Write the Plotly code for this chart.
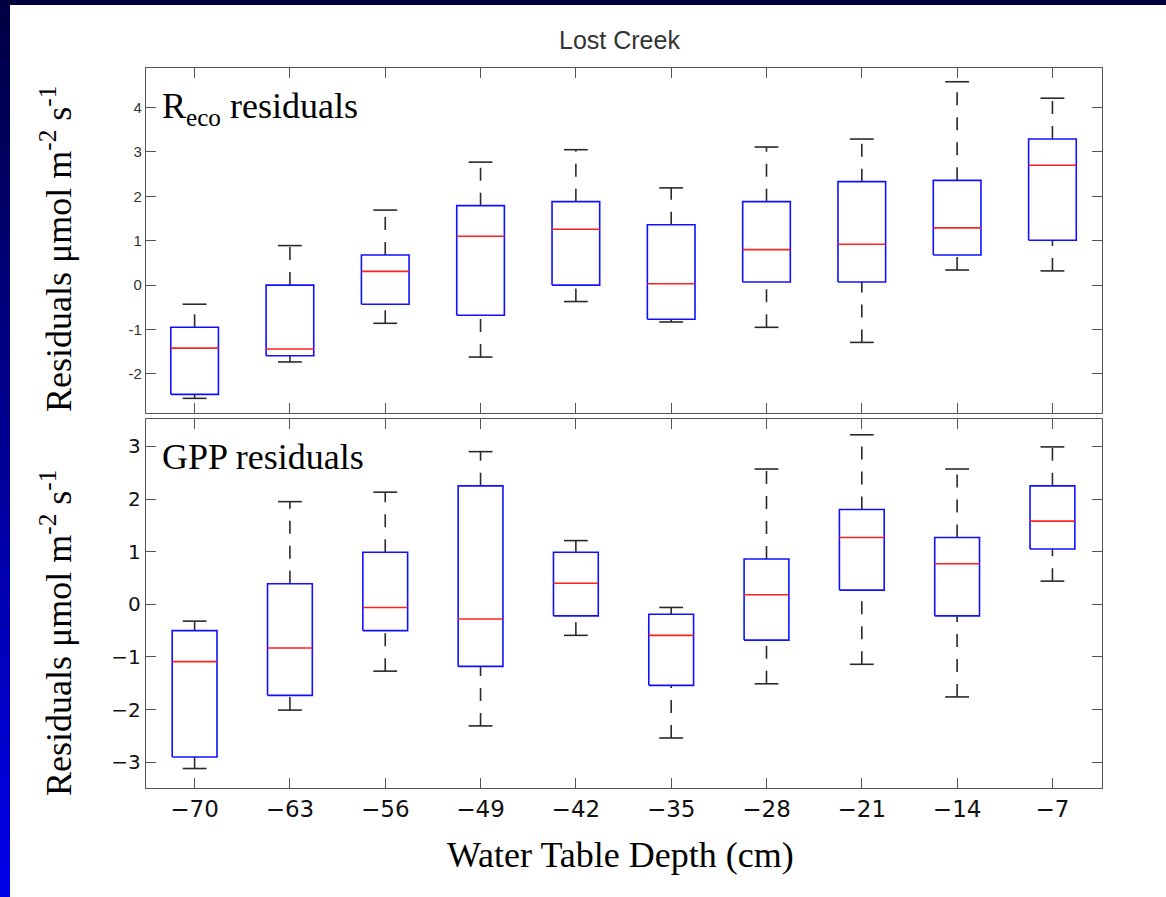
import plotly.graph_objects as go

# ---------------- data ----------------
depth_labels = ["\u221270", "\u221263", "\u221256", "\u221249", "\u221242",
                "\u221235", "\u221228", "\u221221", "\u221214", "\u22127"]
positions = list(range(1, 11))

reco_lo = [-2.55, -1.73, -0.86, -1.62, -0.37, -0.83, -0.95, -1.29, 0.34, 0.32]
reco_q1 = [-2.46, -1.59, -0.43, -0.68, 0.00, -0.77, 0.07, 0.07, 0.68, 1.01]
reco_med = [-1.42, -1.44, 0.31, 1.10, 1.26, 0.03, 0.80, 0.92, 1.29, 2.70]
reco_q3 = [-0.95, 0.00, 0.68, 1.79, 1.88, 1.36, 1.88, 2.33, 2.36, 3.29]
reco_hi = [-0.43, 0.89, 1.69, 2.77, 3.05, 2.19, 3.11, 3.29, 4.58, 4.21]

gpp_lo = [-3.12, -2.01, -1.27, -2.31, -0.59, -2.54, -1.51, -1.14, -1.76, 0.44]
gpp_q1 = [-2.90, -1.73, -0.50, -1.18, -0.22, -1.54, -0.68, 0.27, -0.22, 1.05]
gpp_med = [-1.09, -0.83, -0.06, -0.28, 0.40, -0.59, 0.18, 1.27, 0.77, 1.58]
gpp_q3 = [-0.50, 0.39, 0.99, 2.25, 0.99, -0.19, 0.86, 1.80, 1.27, 2.25]
gpp_hi = [-0.32, 1.95, 2.13, 2.90, 1.21, -0.06, 2.57, 3.22, 2.57, 2.99]

reco_ticks = [-2, -1, 0, 1, 2, 3, 4]
reco_ticktext = ["-2", "-1", "0", "1", "2", "3", "4"]
gpp_ticks = [-3, -2, -1, 0, 1, 2, 3]
gpp_ticktext = ["\u22123", "\u22122", "\u22121", "0", "1", "2", "3"]

# ---------------- figure ----------------
W, H = 1166, 897
fig = go.Figure()

BLUE = "#1010ff"
RED = "#ff2020"
BLACK = "#2a2a2a"
AXC = "#555555"


def add_panel(xa, ya, lo, q1, med, q3, hi, bw, cw):
    hb, hc = bw / 2.0, cw / 2.0
    bx, by, mx, my, wx, wy, cx, cy = [], [], [], [], [], [], [], []
    for p, a, b, m, c, d in zip(positions, lo, q1, med, q3, hi):
        bx += [p - hb, p + hb, p + hb, p - hb, p - hb, None]
        by += [b, b, c, c, b, None]
        mx += [p - hb, p + hb, None]
        my += [m, m, None]
        # whiskers drawn upward (dashed)
        wx += [p, p, None, p, p, None]
        wy += [a, b, None, c, d, None]
        cx += [p - hc, p + hc, None, p - hc, p + hc, None]
        cy += [a, a, None, d, d, None]
    common = dict(xaxis=xa, yaxis=ya, mode="lines", hoverinfo="skip", showlegend=False)
    fig.add_trace(go.Scatter(x=wx, y=wy, line=dict(color=BLACK, width=1.6, dash="13px,12px"), **common))
    fig.add_trace(go.Scatter(x=cx, y=cy, line=dict(color=BLACK, width=1.6), **common))
    fig.add_trace(go.Scatter(x=bx, y=by, line=dict(color=BLUE, width=1.6), **common))
    fig.add_trace(go.Scatter(x=mx, y=my, line=dict(color=RED, width=1.6), **common))


add_panel("x", "y", reco_lo, reco_q1, reco_med, reco_q3, reco_hi, 0.50, 0.25)
add_panel("x2", "y2", gpp_lo, gpp_q1, gpp_med, gpp_q3, gpp_hi, 0.47, 0.25)


def py(v):
    return 1 - v / H


def pxx(v):
    return v / W


xdom = [pxx(146), pxx(1102)]
axis_common = dict(showgrid=False, zeroline=False, showline=True, linecolor=AXC,
                   linewidth=1.3, ticks="inside", ticklen=10, tickcolor=AXC,
                   tickwidth=1.3, mirror="ticks")

fig.update_layout(
    width=W, height=H,
    margin=dict(l=0, r=0, t=0, b=0),
    paper_bgcolor="white", plot_bgcolor="white",
    xaxis=dict(domain=xdom, anchor="y", range=[0.49, 10.52], tickvals=positions,
               showticklabels=False, **axis_common),
    yaxis=dict(domain=[py(413), py(68)], anchor="x", range=[-2.88, 4.89],
               tickvals=reco_ticks, ticktext=reco_ticktext,
               tickfont=dict(family="Liberation Sans, Arial", size=15, color="#333"),
               **axis_common),
    xaxis2=dict(domain=xdom, anchor="y2", range=[0.49, 10.52], tickvals=positions,
                ticktext=depth_labels,
                tickfont=dict(family="DejaVu Sans", size=23, color="#111"),
                **axis_common),
    yaxis2=dict(domain=[py(788), py(419)], anchor="x2", range=[-3.49, 3.52],
                tickvals=gpp_ticks, ticktext=gpp_ticktext,
                tickfont=dict(family="DejaVu Sans", size=20, color="#111"),
                **axis_common),
)

serif = dict(family="Liberation Serif, Times New Roman", size=36, color="black")
ann = [
    dict(text="Lost Creek", x=pxx(619), y=py(40), xanchor="center", yanchor="middle",
         font=dict(family="Liberation Sans, Arial", size=25, color="#333")),
    dict(text="R<sub>eco</sub> residuals", x=pxx(160), y=py(108), xanchor="left",
         yanchor="middle", font=serif),
    dict(text="GPP residuals", x=pxx(160), y=py(457), xanchor="left",
         yanchor="middle", font=serif),
    dict(text="Residuals \u03bcmol m<sup>-2</sup> s<sup>-1</sup>", x=pxx(56), y=py(249),
         textangle=-90, xanchor="center", yanchor="middle", font=serif),
    dict(text="Residuals \u03bcmol m<sup>-2</sup> s<sup>-1</sup>", x=pxx(56), y=py(633),
         textangle=-90, xanchor="center", yanchor="middle", font=serif),
    dict(text="Water Table Depth (cm)", x=pxx(620), y=py(855), xanchor="center",
         yanchor="middle", font=serif),
]
for a in ann:
    a.update(xref="paper", yref="paper", showarrow=False)
fig.update_layout(annotations=ann)

# background frame: dark top band and blue gradient left band
shapes = []
nb = 30
for i in range(nb):
    t = i / (nb - 1)
    b = int(0x45 + t * (0xe8 - 0x45))
    shapes.append(dict(type="rect", xref="paper", yref="paper", x0=0, x1=pxx(10),
                       y0=max(0, 1 - (i + 1.6) / nb), y1=1 - i / nb,
                       fillcolor=f"rgb(0,0,{b})", line=dict(width=0), layer="above"))
shapes.append(dict(type="rect", xref="paper", yref="paper", x0=0, x1=1, y0=py(5), y1=1,
                   fillcolor="#00003f", line=dict(width=0), layer="above"))
fig.update_layout(shapes=shapes)

fig.write_html("out.html", config={"displayModeBar": False},
               post_script="document.body.style.margin='0';")
